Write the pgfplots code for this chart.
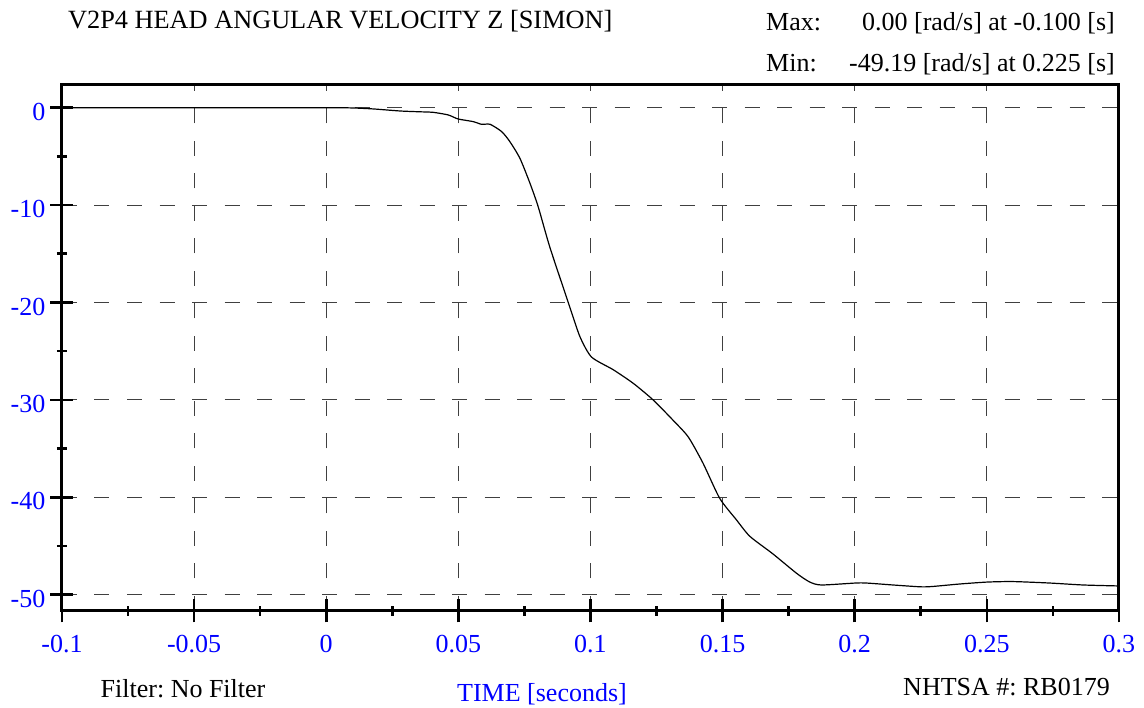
\documentclass[border=0pt]{standalone}
\usepackage{fontspec}
\setmainfont{Liberation Serif}
\usepackage{pgfplots}
\pgfplotsset{compat=1.18}
\usetikzlibrary{calc}
\definecolor{tblue}{RGB}{0,0,255}
\newcommand{\bigf}{\fontsize{26}{31}\selectfont}
\frenchspacing
\begin{document}
\begin{tikzpicture}[x=1pt,y=1pt]
\begin{axis}[
  name=ax,
  scale only axis, width=1057pt, height=526.7pt,
  xmin=-0.1, xmax=0.3, ymin=-51.67, ymax=2.4,
  xtick={-0.1,-0.05,0,0.05,0.1,0.15,0.2,0.25,0.3},
  xticklabels={-0.1,-0.05,0,0.05,0.1,0.15,0.2,0.25,0.3},
  ytick={-50,-40,-30,-20,-10,0},
  yticklabels={-50,-40,-30,-20,-10,0},
  minor xtick={-0.075,-0.025,0.025,0.075,0.125,0.175,0.225,0.275},
  minor ytick={-45,-35,-25,-15,-5},
  xtick pos=bottom, ytick pos=left,
  tick align=center,
  major tick length=23pt, minor tick length=10pt,
  every tick/.style={black, line width=2.6pt},
  axis line style={line width=3pt, black},
  grid=major,
  major grid style={black!75, line width=1.1pt, dash pattern=on 15pt off 17.5pt},
  ticklabel style={font=\bigf, text=tblue, inner sep=0pt},
  xticklabel style={anchor=base, yshift=-30pt},
  yticklabel style={anchor=east, xshift=-5pt, yshift=-4pt},
  clip=true,
]
\addplot[black, line width=1.2pt, smooth, tension=0.4] coordinates {
(-0.100,0.00) (-0.050,0.00) (0.000,0.00) (0.010,-0.03) (0.0178,-0.13)
(0.0279,-0.34) (0.035,-0.42) (0.0405,-0.48) (0.0462,-0.75) (0.0499,-1.16)
(0.0556,-1.43) (0.0588,-1.71) (0.0620,-1.71) (0.0664,-2.46) (0.0695,-3.49)
(0.0733,-5.2) (0.0771,-7.76) (0.0802,-10.16) (0.0846,-14.3) (0.0916,-20.0)
(0.096,-23.5) (0.1004,-25.6) (0.1086,-26.9) (0.1162,-28.3) (0.1237,-30.0)
(0.1313,-32.1) (0.1370,-33.8) (0.1426,-36.5) (0.1489,-40.1) (0.1552,-42.3)
(0.1603,-44.0) (0.169,-45.8) (0.178,-47.8) (0.183,-48.7) (0.1874,-49.0)
(0.2003,-48.8) (0.2044,-48.8) (0.2145,-49.0) (0.225,-49.19) (0.2296,-49.15)
(0.2397,-48.9) (0.2502,-48.7) (0.2599,-48.65) (0.2738,-48.8) (0.2864,-49.0)
(0.300,-49.1)
};
\coordinate (O) at (rel axis cs:0,0);
\end{axis}
\pgfresetboundingbox
\path[use as bounding box] ($(O)+(-62,-97)$) rectangle ++(1144,708);
\coordinate (B) at ($(O)+(-62,-97)$);
\node[anchor=base west, inner sep=0pt, font=\fontsize{26.3}{31}\selectfont] at ($(B)+(68,679.7)$) {V2P4 HEAD ANGULAR VELOCITY Z [SIMON]};
\node[anchor=base west, inner sep=0pt, font=\bigf] at ($(B)+(766,677.3)$) {Max:};
\node[anchor=base east, inner sep=0pt, font=\bigf] at ($(B)+(1115,677.3)$) {0.00 [rad/s] at -0.100 [s]};
\node[anchor=base west, inner sep=0pt, font=\bigf] at ($(B)+(766,636.3)$) {Min:};
\node[anchor=base east, inner sep=0pt, font=\bigf] at ($(B)+(1115,636.3)$) {-49.19 [rad/s] at 0.225 [s]};
\node[anchor=base west, inner sep=0pt, font=\bigf] at ($(B)+(100.5,10)$) {Filter: No Filter};
\node[anchor=base, inner sep=0pt, font=\bigf, text=tblue] at ($(B)+(542,6)$) {TIME [seconds]};
\node[anchor=base east, inner sep=0pt, font=\bigf] at ($(B)+(1110,12)$) {NHTSA \#: RB0179};
\end{tikzpicture}
\end{document}
